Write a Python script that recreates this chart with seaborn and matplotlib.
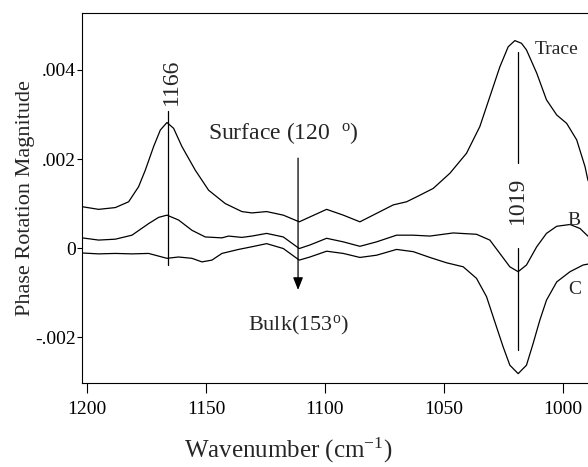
import numpy as np
import pandas as pd
import matplotlib
matplotlib.use('Agg')
import matplotlib.pyplot as plt
import seaborn as sns

# wavenumbers (cm-1) and phase rotation magnitude
trace_wn = [1202.1, 1195.1, 1188.1, 1182.5, 1178.3, 1175.5, 1172.0, 1169.2, 1166.4, 1163.6,
            1160.1, 1154.5, 1148.9, 1141.9, 1134.9, 1130.7, 1124.5, 1117.5, 1110.8, 1106.3,
            1099.3, 1092.3, 1085.3, 1078.3, 1071.3, 1065.7, 1061.5, 1054.5, 1047.5, 1040.5,
            1034.9, 1030.7, 1026.5, 1023.0, 1020.2, 1017.4, 1015.3, 1011.0, 1006.9, 1002.6,
            998.4, 994.2, 990.7, 989.5, 984.0]
trace_val = [0.00093, 0.00087, 0.00091, 0.00104, 0.00138, 0.00175, 0.00228, 0.00265, 0.00282, 0.00269,
             0.00228, 0.00175, 0.00130, 0.00100, 0.00082, 0.00079, 0.00082, 0.00074, 0.00059, 0.00070,
             0.00087, 0.00074, 0.00059, 0.00078, 0.00097, 0.00104, 0.00115, 0.00134, 0.00168, 0.00213,
             0.00273, 0.00340, 0.00407, 0.00452, 0.00466, 0.00460, 0.00445, 0.00393, 0.00333, 0.00299,
             0.00280, 0.00243, 0.00183, 0.00153, 0.00090]

b_wn = [1202.1, 1195.1, 1188.1, 1181.1, 1174.1, 1169.9, 1166.4, 1161.5, 1155.9, 1150.3,
        1143.3, 1140.5, 1134.9, 1130.7, 1124.5, 1117.5, 1110.8, 1106.3, 1099.3, 1092.3,
        1085.3, 1078.3, 1069.9, 1062.9, 1055.9, 1046.1, 1036.3, 1030.7, 1026.5, 1022.3,
        1018.8, 1015.3, 1011.0, 1006.9, 1002.6, 997.0, 992.8, 989.5, 984.0]
b_val = [0.00023, 0.00018, 0.00020, 0.00029, 0.00055, 0.00069, 0.00074, 0.00063, 0.00040, 0.00025,
         0.00023, 0.00027, 0.00024, 0.00027, 0.00033, 0.00025, -0.00001, 0.00007, 0.00022, 0.00014,
         0.00004, 0.00014, 0.00029, 0.00029, 0.00027, 0.00034, 0.00031, 0.00018, -0.00012, -0.00042,
         -0.00053, -0.00038, 0.00003, 0.00033, 0.00049, 0.00053, 0.00044, 0.00027, 0.00010]

c_wn = [1202.1, 1195.1, 1188.1, 1181.1, 1174.1, 1169.9, 1166.4, 1161.5, 1155.9, 1151.7,
        1147.5, 1143.3, 1136.3, 1130.7, 1124.5, 1117.5, 1110.8, 1106.3, 1099.3, 1092.3,
        1085.3, 1078.3, 1069.9, 1062.9, 1055.9, 1048.9, 1041.9, 1036.3, 1032.1, 1027.9,
        1025.1, 1022.3, 1018.8, 1015.3, 1012.5, 1009.7, 1006.9, 1002.6, 997.0, 991.5,
        989.5, 984.0]
c_val = [-0.00011, -0.00013, -0.00012, -0.00013, -0.00012, -0.00018, -0.00023, -0.00020, -0.00023, -0.00031,
         -0.00027, -0.00012, -0.00003, 0.00003, 0.00010, -0.00001, -0.00027, -0.00020, -0.00007, -0.00012,
         -0.00021, -0.00016, -0.00003, -0.00008, -0.00021, -0.00033, -0.00042, -0.00068, -0.00109, -0.00177,
         -0.00222, -0.00263, -0.00282, -0.00263, -0.00214, -0.00162, -0.00117, -0.00076, -0.00053, -0.00038,
         -0.00036, -0.00030]

x_ticks = [1200, 1150, 1100, 1050, 1000]
y_ticks = [-0.002, 0, 0.002, 0.004]
y_ticklabels = ['-.002', '0', '.002', '.004']

peak_left = 1166
peak_right = 1019
arrow_wn = 1111.3

df = pd.concat([
    pd.DataFrame({'wn': trace_wn, 'val': trace_val, 'series': 'Trace'}),
    pd.DataFrame({'wn': b_wn, 'val': b_val, 'series': 'B'}),
    pd.DataFrame({'wn': c_wn, 'val': c_val, 'series': 'C'}),
])

sns.set_theme(style='ticks')
plt.rcParams['font.family'] = ['Liberation Serif', 'DejaVu Serif']
plt.rcParams['mathtext.fontset'] = 'custom'
plt.rcParams['mathtext.rm'] = 'Liberation Serif'
plt.rcParams['mathtext.it'] = 'Liberation Serif:italic'

fig = plt.figure(figsize=(5.88, 4.67), dpi=100)
ax = fig.add_axes([82 / 588, 84 / 467, 538 / 588, 370 / 467])

sns.lineplot(data=df, x='wn', y='val', hue='series', units='series', estimator=None,
             palette={'Trace': 'black', 'B': 'black', 'C': 'black'},
             linewidth=0.9, legend=False, ax=ax)
for ln in ax.lines:
    ln.set_solid_joinstyle('round')

ax.set_xlim(1202.1, 976)
ax.set_ylim(-0.00303, 0.00528)
ax.set_xticks(x_ticks)
ax.set_xticklabels([str(t) for t in x_ticks])
ax.set_yticks(y_ticks)
ax.set_yticklabels(y_ticklabels)
ax.tick_params(axis='x', direction='out', length=7, width=0.8, pad=6, labelsize=14, colors='black')
ax.tick_params(axis='y', direction='out', length=3.5, width=0.8, pad=1, labelsize=14, colors='black')
for s in ax.spines.values():
    s.set_linewidth(0.8)
    s.set_color('black')

ax.set_xlabel('')
ax.set_ylabel('Phase Rotation Magnitude', fontsize=16)
ax.yaxis.set_label_coords(-0.088, 0.5)
fig.text(288 / 588, 1 - 450 / 467, 'Wavenumber (cm$^{\\mathrm{-1}}$)', fontsize=18,
         ha='center', va='center')

# peak markers
ax.plot([peak_left, peak_left], [0.00309, -0.00038], color='black', lw=0.9)
ax.text(peak_left - 1.3, 0.00321, str(peak_left), rotation=90, ha='center', va='bottom', fontsize=17)
ax.plot([peak_right, peak_right], [0.00441, 0.00191], color='black', lw=0.9)
ax.plot([peak_right, peak_right], [0.0, -0.00229], color='black', lw=0.9)
ax.text(peak_right, 0.00108, str(peak_right), rotation=90, ha='center', va='center', fontsize=17)

# surface -> bulk arrow
ax.annotate('', xy=(arrow_wn, -0.00094), xytext=(arrow_wn, 0.00202),
            arrowprops=dict(arrowstyle='-|>,head_length=0.5,head_width=0.2', color='black',
                            lw=0.9, mutation_scale=15, shrinkA=0, shrinkB=0))
ax.text(1149.2, 0.00258, 'Surface (120 $\\ ^{\\mathrm{o}}$)', ha='left', va='center', fontsize=17)
ax.text(1132.4, -0.00173, 'Bulk(153$^{\\mathrm{o}}$)', ha='left', va='center', fontsize=16)

ax.text(1011.8, 0.00445, 'Trace', ha='left', va='center', fontsize=14)
ax.text(998.3, 0.00063, 'B', ha='left', va='center', fontsize=14)
ax.text(997.9, -0.00094, 'C', ha='left', va='center', fontsize=14)

fig.savefig('out.png', dpi=100)
